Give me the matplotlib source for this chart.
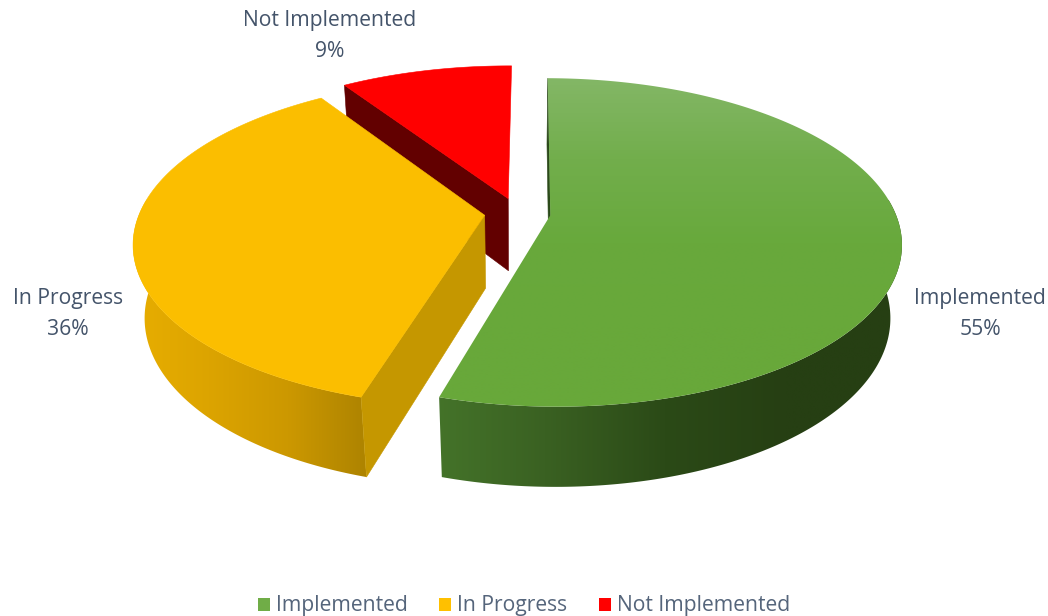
import numpy as np
import matplotlib
matplotlib.use("Agg")
import matplotlib.pyplot as plt
from matplotlib.patches import Polygon, Patch
from matplotlib.colors import LinearSegmentedColormap

categories = ["Implemented", "In Progress", "Not Implemented"]
values = [54.5, 36.1, 9.4]
percent_labels = ["55%", "36%", "9%"]
legend_colors = ["#70ad47", "#ffc000", "#ff0000"]
label_positions = [(980, 314), (68, 314), (330, 36)]

TEXT = "#44546a"
FONT = "Open Sans"
CX, CY = 517.5, 213     # pie centre in pixels
RX, RY = 345, 159       # radii before perspective
DEPTH = 75              # height of the pie wall
KY, KD = 0.165, 0.03    # perspective strength along the ground and the depth
EXPLODE = 0.096
ROTATION = np.radians(0.4)

fig = plt.figure(figsize=(10.48, 6.16), dpi=100)
ax = fig.add_axes([0, 0, 1, 1])
ax.set_xlim(0, 1048)
ax.set_ylim(616, 0)
ax.axis("off")


def project(x, y, d):
    w = 1 - KY * y + KD * d
    return CX + RX * x / w, CY + (RY * y + DEPTH * d) / w


def arc(a0, a1, ox, oy, d):
    t = np.linspace(a0, a1, 200)
    return np.column_stack(project(ox + np.sin(t), oy - np.cos(t), d))


def flat(pts, color, z):
    ax.add_patch(Polygon(pts, closed=True, fc=color, ec=color, lw=0.4, zorder=z))


def gradient(pts, stops, vertical, extent, z):
    patch = Polygon(pts, closed=True, fc="none", ec="none", zorder=z)
    ax.add_patch(patch)
    cmap = LinearSegmentedColormap.from_list("g", stops)
    data = np.linspace(0, 1, 256).reshape(-1, 1) if vertical else np.linspace(0, 1, 256).reshape(1, -1)
    im = ax.imshow(data, cmap=cmap, extent=extent, aspect="auto", zorder=z, interpolation="bilinear")
    im.set_clip_path(patch)


fractions = np.array(values) / sum(values)
ends = np.cumsum(fractions) * 2 * np.pi + ROTATION
starts = ends - fractions * 2 * np.pi
mids = (starts + ends) / 2
offsets = [(EXPLODE * np.sin(m), -EXPLODE * np.cos(m)) for m in mids]

# red slice (back)
(a0, a1), (ox, oy) = (starts[2], ends[2]), offsets[2]
apex_top = np.array(project(ox, oy, 0))
apex_bot = np.array(project(ox, oy, 1))
edge_top = arc(a0, a0, ox, oy, 0)[0]
edge_bot = arc(a0, a0, ox, oy, 1)[0]
flat([edge_top, apex_top, apex_bot, edge_bot], "#620000", 1)
flat(np.vstack([[apex_top], arc(a0, a1, ox, oy, 0)]), "#ff0000", 2)

# orange slice (left)
(a0, a1), (ox, oy) = (starts[1], ends[1]), offsets[1]
apex_top = np.array(project(ox, oy, 0))
apex_bot = np.array(project(ox, oy, 1))
wall = np.vstack([arc(a0, a1 - 0.5, ox, oy, 0), arc(a1 - 0.5, a0, ox, oy, 1)])
gradient(wall, ["#e8ae00", "#dca400", "#cc9800", "#ad8300"], False, (130, 368, 485, 200), 3)
edge_top = arc(a0, a0, ox, oy, 0)[0]
edge_bot = arc(a0, a0, ox, oy, 1)[0]
flat([edge_top, apex_top, apex_bot, edge_bot], "#c59700", 4)
flat(np.vstack([[apex_top], arc(a0, a1, ox, oy, 0)]), "#fbbe00", 5)

# green slice (right)
(a0, a1), (ox, oy) = (starts[0], ends[0]), offsets[0]
apex_top = np.array(project(ox, oy, 0))
apex_bot = np.array(project(ox, oy, 1))
edge_top = arc(a0, a0, ox, oy, 0)[0]
edge_bot = arc(a0, a0, ox, oy, 1)[0]
flat([edge_top, apex_top, apex_bot, edge_bot], "#2b4a1a", 6)
wall = np.vstack([arc(0.35 * np.pi, a1, ox, oy, 0), arc(a1, 0.35 * np.pi, ox, oy, 1)])
gradient(wall, ["#45752a", "#3a6122", "#2b4a17", "#263f13", "#263f13"], False, (425, 905, 495, 200), 7)
top = np.vstack([[apex_top], arc(a0, a1, ox, oy, 0)])
gradient(top, ["#84b767", "#72ae4c", "#68a93c", "#68a83a", "#68a83a"], True, (420, 910, 410, 75), 8)

# data labels
for name, pct, (lx, ly) in zip(categories, percent_labels, label_positions):
    ax.text(lx, ly, f"{name}\n{pct}", ha="center", va="center", fontsize=15.2, color=TEXT,
            family=FONT, linespacing=1.66, zorder=10)

# legend
handles = [Patch(fc=c, ec="none") for c in legend_colors]
ax.legend(handles, categories, ncol=3, loc="center", bbox_to_anchor=(524 / 1048, 1 - 606 / 616),
          frameon=False, handlelength=0.57, handleheight=0.57, handletextpad=0.28, columnspacing=1.5,
          prop={"family": FONT, "size": 15.2}, labelcolor="#55657b", borderpad=0, borderaxespad=0)

fig.savefig("out.png", dpi=100, facecolor="white")
